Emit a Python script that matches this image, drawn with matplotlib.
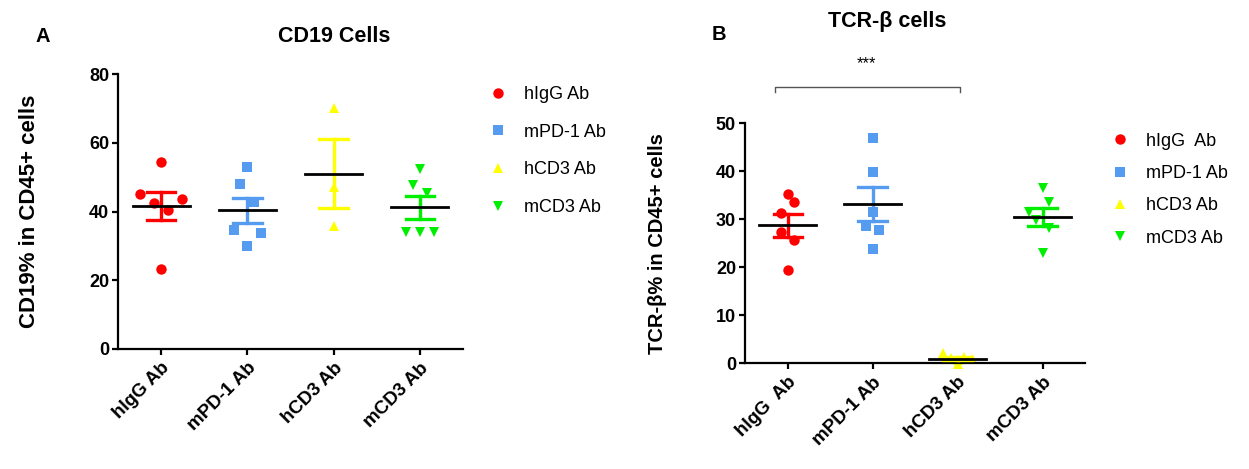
import numpy as np
import matplotlib
matplotlib.use("Agg")
import matplotlib.pyplot as plt
import matplotlib.transforms as mtransforms

plt.rcParams['font.family'] = ['Liberation Sans', 'DejaVu Sans']

# groups / colours / markers
groups = ['hIgG Ab', 'mPD-1 Ab', 'hCD3 Ab', 'mCD3 Ab']
groups_b = ['hIgG  Ab', 'mPD-1 Ab', 'hCD3 Ab', 'mCD3 Ab']
colors = ['#ff0000', '#559cf0', '#ffff00', '#00ee00']
markers = ['o', 's', '^', 'v']

# panel A: CD19% in CD45+ cells
cd19_higg = [54.5, 45.0, 43.7, 42.6, 40.5, 23.3]
cd19_mpd1 = [52.9, 48.0, 42.8, 34.7, 33.9, 30.1]
cd19_hcd3 = [70.1, 47.3, 35.9]
cd19_mcd3 = [52.3, 47.8, 45.3, 34.0, 34.0, 34.0]

# panel B: TCR-beta% in CD45+ cells
tcr_higg = [35.2, 33.7, 31.4, 27.3, 25.6, 19.4]
tcr_mpd1 = [47.0, 39.9, 31.5, 28.6, 27.8, 23.75]
tcr_hcd3 = [2.1, 1.3, 1.1, 0.9, 0.6, -0.2]
tcr_mcd3 = [36.6, 33.7, 31.6, 29.9, 28.1, 23.0]

# horizontal scatter offsets (in category units), like the prism layout
jit_a = [[0, -0.24, 0.24, -0.08, 0.08, 0],
         [0, -0.085, 0.08, -0.16, 0.16, 0],
         [0, 0, 0],
         [0, -0.08, 0.08, -0.16, 0, 0.16]]
jit_b = [[0, 0.08, -0.08, -0.08, 0.08, 0],
         [0, 0, 0, -0.08, 0.08, 0],
         [-0.17, 0.08, -0.08, 0.17, 0.0, 0.0],
         [0, 0.08, -0.16, -0.08, 0.08, 0]]


def scatter_panel(ax, data, jit, ticklabels, ymax, ystep):
    for i, vals in enumerate(data):
        vals = np.array(vals)
        xs = i + np.array(jit[i])
        ax.plot(xs, vals, linestyle='none', marker=markers[i], color=colors[i],
                markersize=7.5, markeredgewidth=0, zorder=2, clip_on=False)
        m = vals.mean()
        sem = vals.std(ddof=1) / np.sqrt(len(vals))
        # sem bar
        ax.plot([i, i], [m - sem, m + sem], color=colors[i], lw=2.4, zorder=3)
        ax.plot([i - 0.165, i + 0.165], [m + sem, m + sem], color=colors[i], lw=2.4, zorder=3)
        ax.plot([i - 0.165, i + 0.165], [m - sem, m - sem], color=colors[i], lw=2.4, zorder=3)
        # mean line
        ax.plot([i - 0.33, i + 0.33], [m, m], color='black', lw=2.0, zorder=4)

    ax.set_xlim(-0.5, 3.5)
    ax.set_ylim(0, ymax)
    ax.set_yticks(np.arange(0, ymax + 1, ystep))
    ax.set_xticks(range(4))
    ax.set_xticklabels(ticklabels, rotation=45, ha='right', va='top',
                       rotation_mode='anchor', fontweight='bold', fontsize=13.5)
    shift = mtransforms.ScaledTranslation(4 / 72, 0, ax.figure.dpi_scale_trans)
    for lab in ax.get_xticklabels():
        lab.set_transform(lab.get_transform() + shift)
    for lab in ax.get_yticklabels():
        lab.set_fontweight('bold')
        lab.set_fontsize(13)
    ax.spines['top'].set_visible(False)
    ax.spines['right'].set_visible(False)
    ax.spines['left'].set_linewidth(1.6)
    ax.spines['bottom'].set_linewidth(1.6)
    ax.tick_params(axis='both', direction='out', length=4.5, width=1.6, pad=2)
    ax.tick_params(axis='x', pad=3)


fig = plt.figure(figsize=(12.49, 4.69), dpi=100)

ax1 = fig.add_axes([0.0945, 0.2559, 0.2762, 0.5857])
scatter_panel(ax1, [cd19_higg, cd19_mpd1, cd19_hcd3, cd19_mcd3], jit_a, groups, 80, 20)
ax1.set_ylabel('CD19% in CD45+ cells', fontweight='bold', fontsize=16)
ax1.yaxis.set_label_coords(-0.226, 0.5)

ax2 = fig.add_axes([0.5965, 0.2254, 0.2722, 0.5117])
scatter_panel(ax2, [tcr_higg, tcr_mpd1, tcr_hcd3, tcr_mcd3], jit_b, groups_b, 50, 10)
ax2.set_ylabel('TCR-β% in CD45+ cells', fontweight='bold', fontsize=14.5)
ax2.yaxis.set_label_coords(-0.229, 0.5)

# significance bracket hIgG vs hCD3
ax2.plot([-0.145, -0.145, 2.03, 2.03], [56.6, 57.5, 57.5, 56.6], color='#555555',
         lw=1.0, clip_on=False)
ax2.text(0.93, 62.4, '***', ha='center', va='center', fontsize=12)

# legends
for ax, labs, anchor, spacing in [(ax1, groups, (0.3913, 0.817), 1.15),
                                  (ax2, groups_b, (0.8895, 0.717), 0.85)]:
    handles = [plt.Line2D([], [], linestyle='none', marker=markers[i], color=colors[i],
                          markersize=7.5, markeredgewidth=0) for i in range(4)]
    ax.legend(handles, labs, loc='upper left', bbox_to_anchor=anchor,
              bbox_transform=fig.transFigure, frameon=False, fontsize=13,
              handlelength=1.0, handletextpad=0.96, borderpad=0, borderaxespad=0,
              labelspacing=spacing)

# titles and panel letters
fig.text(334 / 1249, 1 - 36 / 469, 'CD19 Cells', ha='center', va='center',
         fontweight='bold', fontsize=15.5)
fig.text(43 / 1249, 1 - 36 / 469, 'A', ha='center', va='center',
         fontweight='bold', fontsize=14.5)
fig.text(887 / 1249, 1 - 21 / 469, 'TCR-β cells', ha='center', va='center',
         fontweight='bold', fontsize=15.5)
fig.text(719 / 1249, 1 - 34 / 469, 'B', ha='center', va='center',
         fontweight='bold', fontsize=14.5)

fig.savefig('out.png', dpi=100)
